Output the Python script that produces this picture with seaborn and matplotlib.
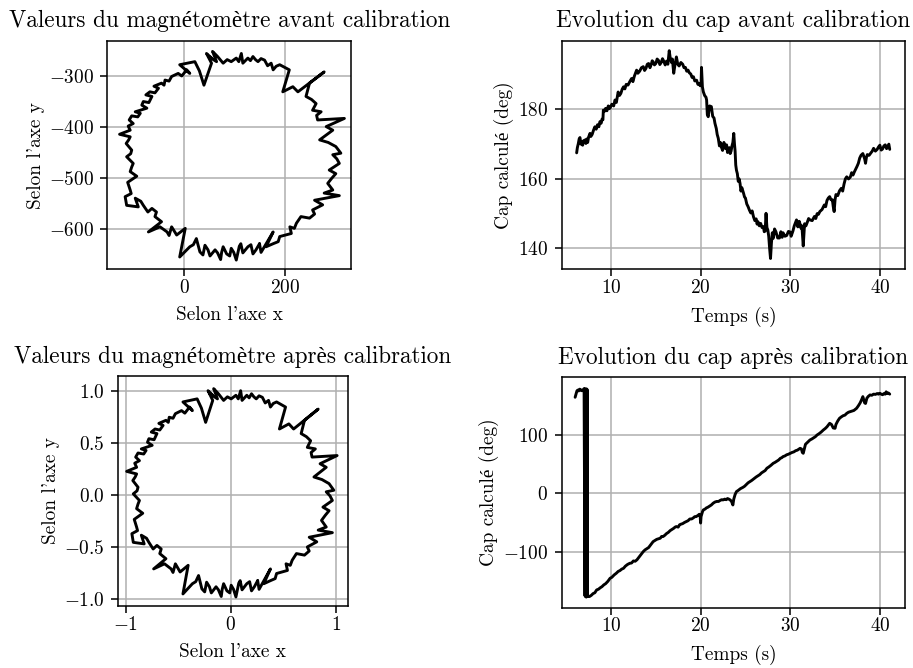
import numpy as np
import pandas as pd
import matplotlib
matplotlib.use("Agg")
import matplotlib.pyplot as plt
import seaborn as sns

# Raw magnetometer readings (x, y) recorded during one full turn
mag_x_brut = [149, 142, 136, 132, 126, 116, 112, 109, 103, 98, 93, 90, 84, 77, 74, 72, 66,
              61, 51, 47, 41, 37, 31, 24, 18, 11, -9, 2, -15, -25, -30, -34, -48, -71, -45,
              -58, -55, -64, -72, -81, -86, -97, -91, -114, -117, -105, -107, -112, -94,
              -107, -104, -101, -114, -106, -104, -115, -110, -107, -128, -107, -111, -101,
              -109, -104, -92, -87, -97, -74, -84, -81, -70, -64, -76, -68, -58, -51, -60,
              -45, -40, -38, -30, -25, -12, -5, 5, 11, -9, 21, 30, 39, 54, 44, 54, 48, 64,
              56, 66, 77, 85, 93, 103, 108, 113, 116, 126, 131, 136, 141, 146, 152, 159,
              165, 172, 176, 182, 189, 208, 195, 215, 225, 277, 248, 241, 252, 261, 254,
              271, 262, 264, 317, 281, 294, 268, 285, 300, 310, 294, 302, 307, 287, 300,
              292, 284, 294, 277, 307, 258, 274, 254, 258, 248, 231, 222, 218, 209, 212,
              189, 186, 176, 162, 176, 152, 149]
mag_y_brut = [-628, -640, -648, -630, -634, -646, -628, -633, -660, -645, -637, -652, -648,
              -634, -645, -659, -646, -640, -652, -640, -631, -650, -644, -618, -630, -634,
              -654, -598, -611, -595, -612, -605, -595, -605, -585, -575, -566, -559, -566,
              -553, -545, -539, -556, -553, -536, -530, -523, -508, -496, -487, -478, -471,
              -458, -452, -445, -432, -425, -419, -414, -406, -398, -393, -386, -378, -380,
              -373, -370, -363, -357, -350, -352, -340, -337, -331, -333, -324, -320, -314,
              -318, -308, -310, -301, -295, -300, -288, -295, -278, -272, -290, -318, -275,
              -256, -265, -262, -272, -252, -262, -275, -268, -272, -265, -272, -256, -275,
              -265, -270, -262, -268, -272, -266, -269, -280, -275, -288, -281, -278, -288,
              -331, -321, -331, -292, -314, -340, -346, -354, -367, -370, -377, -386, -383,
              -399, -406, -425, -430, -438, -451, -454, -462, -471, -484, -491, -500, -510,
              -523, -529, -534, -543, -552, -562, -570, -578, -575, -588, -598, -595, -608,
              -614, -624, -628, -634, -605, -645, -628]

# Hard-iron offset and soft-iron scale used for the calibration
offset_x, offset_y = 92.0, -460.0
echelle_x, echelle_y = 222.0, 204.0

# Heading computed from the raw readings (deg)
t_avant = [6.17, 6.25, 6.36, 6.45, 6.54, 6.65, 6.75, 6.84, 6.95, 7.1, 7.2, 7.3, 7.4, 7.5,
           7.66, 7.75, 7.9, 8.05, 8.2, 8.35, 8.5, 8.65, 8.77, 8.9, 9.0, 9.1, 9.15, 9.3, 9.4,
           9.55, 9.7, 9.8, 9.9, 10.1, 10.3, 10.45, 10.6, 10.8, 10.95, 11.1, 11.25, 11.4,
           11.55, 11.7, 11.9, 12.1, 12.3, 12.45, 12.6, 12.75, 12.86, 13.0, 13.2, 13.4,
           13.6, 13.75, 13.9, 14.05, 14.2, 14.35, 14.5, 14.6, 14.7, 14.85, 15.0, 15.15,
           15.3, 15.45, 15.6, 15.75, 15.9, 16.05, 16.2, 16.35, 16.5, 16.6, 16.75, 16.85,
           17.0, 17.15, 17.3, 17.45, 17.6, 17.8, 18.0, 18.15, 18.3, 18.45, 18.6, 18.75,
           18.9, 19.05, 19.2, 19.35, 19.55, 19.7, 19.85, 19.95, 20.05, 20.1, 20.2, 20.3,
           20.45, 20.6, 20.67, 20.75, 20.85, 21.0, 21.2, 21.35, 21.5, 21.6, 21.75, 21.85,
           21.97, 22.1, 22.2, 22.3, 22.45, 22.6, 22.75, 22.9, 23.0, 23.1, 23.2, 23.3, 23.4,
           23.5, 23.6, 23.7, 23.78, 23.85, 23.92, 24.0, 24.1, 24.2, 24.3, 24.4, 24.5, 24.6,
           24.8, 24.9, 25.0, 25.15, 25.3, 25.45, 25.6, 25.75, 25.9, 26.05, 26.2, 26.3,
           26.4, 26.55, 26.7, 26.85, 27.0, 27.1, 27.2, 27.3, 27.4, 27.5, 27.6, 27.7, 27.8,
           27.9, 28.0, 28.1, 28.25, 28.4, 28.6, 28.8, 28.95, 29.1, 29.2, 29.4, 29.6, 29.8,
           30.0, 30.1, 30.3, 30.45, 30.6, 30.7, 30.85, 31.0, 31.1, 31.2, 31.3, 31.45, 31.6,
           31.75, 31.9, 32.05, 32.2, 32.45, 32.7, 32.85, 33.0, 33.15, 33.3, 33.55, 33.8,
           33.95, 34.1, 34.25, 34.4, 34.55, 34.7, 34.8, 34.9, 35.0, 35.1, 35.3, 35.5, 35.7,
           35.85, 36.0, 36.15, 36.3, 36.5, 36.7, 36.85, 37.0, 37.15, 37.3, 37.45, 37.6,
           37.75, 37.9, 38.1, 38.2, 38.3, 38.4, 38.5, 38.6, 38.8, 39.0, 39.15, 39.3, 39.5,
           39.7, 39.85, 40.0, 40.15, 40.3, 40.45, 40.6, 40.75, 40.9, 41.0, 41.1]
cap_avant = [167.5, 169.0, 170.2, 171.5, 171.9, 170.0, 170.8, 169.7, 171.0, 171.2, 170.2,
             171.5, 170.5, 172.0, 173.1, 172.2, 172.8, 174.0, 175.0, 174.3, 175.6, 175.0,
             176.5, 176.0, 177.2, 177.0, 179.8, 179.5, 180.3, 179.6, 181.0, 180.2, 180.4,
             181.5, 181.0, 182.7, 182.0, 185.0, 184.0, 184.6, 185.8, 186.5, 185.9, 187.2,
             187.0, 188.0, 188.9, 188.0, 189.5, 190.5, 191.3, 190.4, 191.0, 192.0, 192.3,
             191.2, 191.8, 193.0, 193.2, 192.0, 193.0, 194.0, 193.7, 192.8, 193.2, 194.5,
             194.1, 192.9, 193.5, 194.6, 193.8, 192.8, 193.9, 193.0, 196.9, 195.0, 193.5,
             194.5, 190.4, 193.0, 195.1, 193.0, 192.5, 193.5, 193.0, 192.0, 192.1, 191.0,
             191.3, 190.5, 190.2, 189.2, 189.4, 188.2, 188.4, 187.2, 187.5, 186.8, 187.0,
             192.1, 186.5, 185.1, 184.0, 183.5, 182.7, 178.5, 177.9, 181.0, 180.8, 178.0,
             177.5, 176.0, 174.5, 172.8, 171.7, 169.5, 170.5, 169.3, 168.2, 170.5, 168.8,
             169.8, 167.6, 168.0, 169.0, 167.3, 168.0, 169.5, 170.5, 173.1, 170.0, 168.0,
             164.0, 162.5, 161.5, 159.3, 160.0, 158.7, 156.5, 157.5, 155.8, 154.8, 154.5,
             152.8, 152.0, 151.0, 150.2, 150.8, 149.1, 148.0, 148.5, 147.0, 147.7, 146.5,
             147.2, 146.0, 146.3, 144.8, 145.0, 150.1, 146.0, 145.3, 143.5, 140.0, 137.1,
             141.5, 144.5, 142.9, 145.6, 144.8, 143.0, 143.0, 144.8, 143.2, 144.5, 143.5,
             143.7, 144.9, 144.7, 143.5, 145.0, 146.5, 147.5, 148.2, 146.2, 147.8, 147.0,
             145.8, 146.5, 140.7, 147.1, 146.5, 147.5, 148.6, 148.2, 148.0, 149.2, 148.6,
             150.0, 149.8, 150.6, 151.2, 152.5, 152.0, 153.8, 154.5, 154.9, 154.0, 154.0,
             152.0, 150.6, 154.0, 155.5, 155.2, 156.6, 157.3, 156.5, 158.5, 160.0, 160.6,
             160.0, 160.5, 161.8, 161.1, 162.0, 162.8, 163.6, 164.5, 166.0, 166.8, 167.3,
             166.5, 165.8, 164.5, 166.2, 167.0, 166.8, 167.5, 168.0, 168.8, 168.0, 168.5,
             169.2, 169.7, 168.3, 168.6, 169.5, 169.8, 168.7, 169.5, 170.0, 168.5]

# Heading computed from the calibrated readings (deg)
t_apres = [6.0, 6.1, 6.2, 6.3, 6.4, 6.5, 6.6, 6.7, 6.85, 7.0, 7.1, 7.13, 7.17, 7.2, 7.24,
           7.27, 7.31, 7.34, 7.38, 7.6, 7.8, 8.0, 8.2, 8.4, 8.6, 8.8, 9.0, 9.2, 9.4, 9.65,
           9.9, 10.1, 10.35, 10.6, 10.8, 11.0, 11.2, 11.4, 11.6, 11.85, 12.1, 12.3, 12.5,
           12.7, 12.9, 13.1, 13.3, 13.45, 13.6, 13.8, 14.0, 14.2, 14.45, 14.7, 14.9, 15.1,
           15.3, 15.5, 15.65, 15.8, 16.0, 16.2, 16.4, 16.6, 16.8, 17.0, 17.15, 17.3, 17.5,
           17.65, 17.8, 18.0, 18.2, 18.4, 18.6, 18.8, 19.0, 19.2, 19.35, 19.5, 19.7, 19.85,
           19.95, 20.0, 20.05, 20.2, 20.3, 20.5, 20.65, 20.8, 21.0, 21.2, 21.4, 21.6, 21.8,
           22.0, 22.2, 22.35, 22.5, 22.7, 22.85, 23.0, 23.15, 23.3, 23.45, 23.6, 23.7,
           23.85, 24.0, 24.2, 24.45, 24.7, 24.9, 25.1, 25.3, 25.5, 25.7, 25.95, 26.2, 26.4,
           26.6, 26.8, 27.0, 27.2, 27.4, 27.6, 27.85, 28.1, 28.3, 28.5, 28.7, 28.9, 29.05,
           29.2, 29.4, 29.6, 29.8, 30.0, 30.2, 30.4, 30.6, 30.8, 31.0, 31.1, 31.25, 31.35,
           31.45, 31.55, 31.7, 31.9, 32.05, 32.2, 32.4, 32.6, 32.8, 33.0, 33.2, 33.45, 33.7,
           33.9, 34.1, 34.25, 34.4, 34.6, 34.8, 35.0, 35.1, 35.3, 35.5, 35.7, 35.9, 36.1,
           36.3, 36.5, 36.7, 36.9, 37.1, 37.4, 37.6, 37.8, 37.95, 38.1, 38.2, 38.3, 38.4,
           38.55, 38.7, 38.9, 39.1, 39.3, 39.5, 39.7, 39.85, 40.0, 40.15, 40.3, 40.45, 40.6,
           40.7, 40.8, 40.95, 41.1]
cap_apres = [164.6, 170.0, 175.5, 177.0, 175.5, 178.5, 178.0, 176.0, 176.0, 179.5, -176.0,
             179.0, -177.0, 178.0, -178.0, 179.0, -176.0, 178.0, -177.0, -177.0, -175.0,
             -172.0, -170.5, -165.7, -164.5, -162.0, -160.0, -157.0, -155.0, -151.0,
             -145.7, -144.0, -140.0, -137.0, -134.0, -132.5, -130.0, -128.6, -125.0,
             -122.0, -120.0, -119.5, -116.0, -116.5, -114.0, -110.0, -106.0, -103.0,
             -100.0, -97.0, -95.0, -93.0, -88.0, -82.9, -81.0, -79.0, -78.0, -77.0, -74.0,
             -74.3, -72.0, -69.0, -67.0, -64.0, -62.0, -60.0, -58.0, -57.0, -58.0, -54.0,
             -53.0, -52.0, -50.0, -48.6, -47.0, -44.0, -44.0, -42.0, -40.0, -40.0, -38.0,
             -36.0, -39.0, -51.0, -40.0, -32.0, -28.6, -27.0, -25.0, -24.0, -22.0, -20.0,
             -17.0, -15.0, -14.0, -14.0, -12.0, -11.0, -11.4, -10.0, -11.0, -9.0, -10.0,
             -11.4, -14.0, -20.0, -10.0, -2.0, 2.9, 5.0, 8.0, 10.0, 12.0, 15.0, 18.0, 20.0,
             22.0, 25.0, 28.0, 30.0, 32.0, 35.0, 37.0, 39.0, 43.0, 45.0, 48.0, 51.4, 53.0,
             55.0, 57.0, 60.0, 61.0, 62.9, 64.0, 66.0, 67.0, 68.6, 70.0, 71.0, 73.0, 74.0,
             76.0, 77.1, 76.0, 70.0, 68.6, 75.0, 84.0, 87.0, 89.0, 91.4, 93.0, 95.0, 97.0,
             100.0, 102.0, 105.0, 108.6, 111.0, 114.0, 117.0, 120.0, 118.0, 112.0, 111.4,
             118.0, 124.0, 128.6, 131.0, 133.0, 134.0, 137.0, 139.0, 140.0, 141.0, 142.0,
             145.7, 150.0, 155.0, 160.0, 165.7, 160.0, 155.0, 154.0, 163.0, 166.0, 168.6,
             168.0, 170.0, 169.5, 171.0, 170.0, 171.4, 170.0, 169.0, 171.0, 170.0, 174.0,
             171.0, 172.0, 170.0]

brut = pd.DataFrame({"x": mag_x_brut, "y": mag_y_brut})
calib = pd.DataFrame({"x": (brut["x"] - offset_x) / echelle_x,
                      "y": (brut["y"] - offset_y) / echelle_y})
cap1 = pd.DataFrame({"t": t_avant, "cap": cap_avant})
cap2 = pd.DataFrame({"t": t_apres, "cap": cap_apres})

sns.set_theme(style="ticks")
plt.rcParams.update({
    "font.family": ["cmr10", "Liberation Serif"],
    "mathtext.fontset": "cm",
    "axes.formatter.use_mathtext": True,
    "axes.unicode_minus": True,
    "font.size": 10,
    "axes.edgecolor": "black",
    "axes.linewidth": 0.8,
    "axes.grid": True,
    "grid.color": "#b0b0b0",
    "grid.linewidth": 0.8,
    "xtick.color": "black",
    "ytick.color": "black",
    "xtick.major.size": 3.5,
    "ytick.major.size": 3.5,
    "xtick.major.width": 0.8,
    "ytick.major.width": 0.8,
    "xtick.major.pad": 1.5,
    "ytick.major.pad": 3.5,
    "xtick.labelsize": 10,
    "ytick.labelsize": 10,
    "axes.labelsize": 10,
    "axes.titlesize": 12,
    "axes.titlepad": 7,
    "text.color": "black",
    "axes.labelcolor": "black",
})

DPI = 139
fig = plt.figure(figsize=(913 / DPI, 668 / DPI), dpi=DPI)
ax1 = fig.add_axes([0.1177, 0.5969, 0.2667, 0.3418])
ax2 = fig.add_axes([0.6152, 0.5969, 0.3760, 0.3418])
ax3 = fig.add_axes([0.1292, 0.0928, 0.2517, 0.3443])
ax4 = fig.add_axes([0.6152, 0.0904, 0.3760, 0.3449])

trait = dict(color="black", estimator=None, sort=False, legend=False, linewidth=1.5)

sns.lineplot(data=brut, x="x", y="y", ax=ax1, **trait)
ax1.set_xlim(-152, 330)
ax1.set_ylim(-678, -231.5)
ax1.set_xticks([0, 200])
ax1.set_yticks([-600, -500, -400, -300])
ax1.set_title("Valeurs du magnétomètre avant calibration")

sns.lineplot(data=cap1, x="t", y="cap", ax=ax2, **trait)
ax2.set_xlim(4.5, 42.8)
ax2.set_ylim(134, 199.7)
ax2.set_xticks([10, 20, 30, 40])
ax2.set_yticks([140, 160, 180])
ax2.set_title("Evolution du cap avant calibration")

sns.lineplot(data=calib, x="x", y="y", ax=ax3, **trait)
ax3.set_xlim(-1.074, 1.115)
ax3.set_ylim(-1.067, 1.141)
ax3.set_xticks([-1, 0, 1])
ax3.set_yticks([-1.0, -0.5, 0.0, 0.5, 1.0])
ax3.set_title("Valeurs du magnétomètre après calibration")

sns.lineplot(data=cap2, x="t", y="cap", ax=ax4, **trait)
ax4.set_xlim(4.5, 42.8)
ax4.set_ylim(-196, 199)
ax4.set_xticks([10, 20, 30, 40])
ax4.set_yticks([-100, 0, 100])
ax4.set_title("Evolution du cap après calibration")

for ax in (ax1, ax3):
    ax.set_xlabel("Selon l'axe x", labelpad=5)
    ax.set_ylabel("Selon l'axe y", labelpad=2)
for ax in (ax2, ax4):
    ax.set_xlabel("Temps (s)", labelpad=5)
    ax.set_ylabel("Cap calculé (deg)", labelpad=2)

for ax in (ax1, ax2, ax3, ax4):
    ax.grid(True, color="#b0b0b0", linewidth=0.8)
    ax.set_axisbelow(True)
    for s in ax.spines.values():
        s.set_visible(True)
        s.set_color("black")
        s.set_linewidth(0.8)

fig.savefig("out.png", dpi=DPI)
